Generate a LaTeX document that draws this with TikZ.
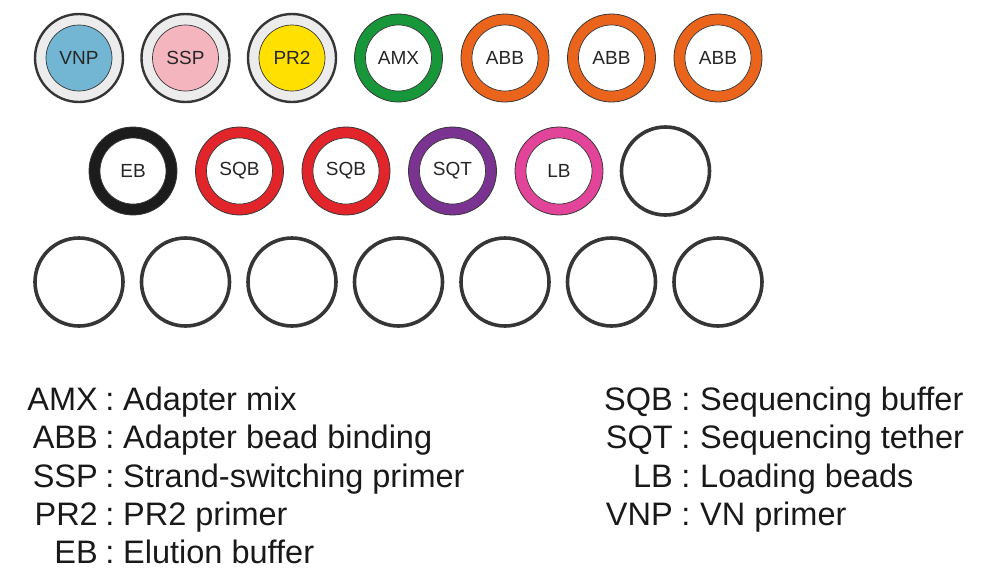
\documentclass[tikz,border=0pt]{standalone}
\usepackage{fontspec}
\setmainfont{Liberation Sans}

\definecolor{rimgrey}{HTML}{363636}
\definecolor{sleeve}{HTML}{ECECEC}
\definecolor{vnpblue}{HTML}{72B6D3}
\definecolor{ssppink}{HTML}{F4B5BF}
\definecolor{pryellow}{HTML}{FFE000}
\definecolor{amxgreen}{HTML}{17973A}
\definecolor{abborange}{HTML}{EA641C}
\definecolor{ebblack}{HTML}{1C1C1C}
\definecolor{sqbred}{HTML}{E1252A}
\definecolor{sqtpurple}{HTML}{7A3391}
\definecolor{lbpink}{HTML}{E2449A}

\def\pitch{106.5}
\def\rowa{58}
\def\rowb{171}
\def\rowc{282}
\def\lead{38.3}

\tikzset{
  tube/.style={circle, draw=rimgrey, minimum size=88pt, inner sep=0pt},
  sleevetube/.style={tube, fill=sleeve, line width=2.4pt},
  captube/.style={tube, fill=#1, line width=0.8pt},
  emptytube/.style={tube, line width=3.6pt},
  cap/.style={circle, draw=rimgrey, fill=#1, minimum size=66pt, inner sep=0pt,
    line width=0.7pt, font=\fontsize{19}{19}\selectfont, text=black!85},
  legend/.style={font=\fontsize{32.5}{32.5}\selectfont, text=black!90, inner sep=0pt},
}

\begin{document}
\begin{tikzpicture}[x=1pt,y=-1pt]
    \useasboundingbox (0,0) rectangle (983,579);

    % first row
    \node[sleevetube] (vnp) at (79,\rowa) {};
    \node[cap=vnpblue] (vnpcap) at (vnp) {VNP};
    \node[sleevetube] (ssp) at ({79+\pitch},\rowa) {};
    \node[cap=ssppink] (sspcap) at (ssp) {SSP};
    \node[sleevetube] (pr) at ({79+2*\pitch},\rowa) {};
    \node[cap=pryellow] (prcap) at (pr) {PR2};
    \node[captube=amxgreen] (amx) at ({79+3*\pitch},\rowa) {};
    \node[cap=white] (amxcap) at (amx) {AMX};
    \node[captube=abborange] (abba) at ({79+4*\pitch},\rowa) {};
    \node[cap=white] (abbacap) at (abba) {ABB};
    \node[captube=abborange] (abbb) at ({79+5*\pitch},\rowa) {};
    \node[cap=white] (abbbcap) at (abbb) {ABB};
    \node[captube=abborange] (abbc) at ({79+6*\pitch},\rowa) {};
    \node[cap=white] (abbccap) at (abbc) {ABB};

    % second row
    \node[captube=ebblack] (eb) at (133,\rowb) {};
    \node[cap=white] (ebcap) at (eb) {EB};
    \node[captube=sqbred] (sqba) at ({133+\pitch},\rowb) {};
    \node[cap=white] (sqbacap) at (sqba) {SQB};
    \node[captube=sqbred] (sqbb) at ({133+2*\pitch},\rowb) {};
    \node[cap=white] (sqbbcap) at (sqbb) {SQB};
    \node[captube=sqtpurple] (sqt) at ({133+3*\pitch},\rowb) {};
    \node[cap=white] (sqtcap) at (sqt) {SQT};
    \node[captube=lbpink] (lb) at ({133+4*\pitch},\rowb) {};
    \node[cap=white] (lbcap) at (lb) {LB};
    \node[emptytube] (freeb) at ({133+5*\pitch},\rowb) {};

    % third row
    \foreach \k in {0,...,6}
      \node[emptytube] (freec\k) at ({79+\k*\pitch},\rowc) {};

    % legend, left column
    \node[legend, anchor=base east] (amxkey) at (98,410.5) {AMX};
    \node[legend, anchor=base] (amxcolon) at (110,410.5) {:};
    \node[legend, anchor=base west] (amxtext) at (123,410.5) {Adapter mix};
    \node[legend, anchor=base east] (abbkey) at (98,{410.5+\lead}) {ABB};
    \node[legend, anchor=base] (abbcolon) at (110,{410.5+\lead}) {:};
    \node[legend, anchor=base west] (abbtext) at (123,{410.5+\lead}) {Adapter bead binding};
    \node[legend, anchor=base east] (sspkey) at (98,{410.5+2*\lead}) {SSP};
    \node[legend, anchor=base] (sspcolon) at (110,{410.5+2*\lead}) {:};
    \node[legend, anchor=base west] (ssptext) at (123,{410.5+2*\lead}) {Strand-switching primer};
    \node[legend, anchor=base east] (prkey) at (98,{410.5+3*\lead}) {PR2};
    \node[legend, anchor=base] (prcolon) at (110,{410.5+3*\lead}) {:};
    \node[legend, anchor=base west] (prtext) at (123,{410.5+3*\lead}) {PR2 primer};
    \node[legend, anchor=base east] (ebkey) at (98,{410.5+4*\lead}) {EB};
    \node[legend, anchor=base] (ebcolon) at (110,{410.5+4*\lead}) {:};
    \node[legend, anchor=base west] (ebtext) at (123,{410.5+4*\lead}) {Elution buffer};

    % legend, right column
    \node[legend, anchor=base east] (sqbkey) at (673,410.5) {SQB};
    \node[legend, anchor=base] (sqbcolon) at (686,410.5) {:};
    \node[legend, anchor=base west] (sqbtext) at (700,410.5) {Sequencing buffer};
    \node[legend, anchor=base east] (sqtkey) at (673,{410.5+\lead}) {SQT};
    \node[legend, anchor=base] (sqtcolon) at (686,{410.5+\lead}) {:};
    \node[legend, anchor=base west] (sqttext) at (700,{410.5+\lead}) {Sequencing tether};
    \node[legend, anchor=base east] (lbkey) at (673,{410.5+2*\lead}) {LB};
    \node[legend, anchor=base] (lbcolon) at (686,{410.5+2*\lead}) {:};
    \node[legend, anchor=base west] (lbtext) at (700,{410.5+2*\lead}) {Loading beads};
    \node[legend, anchor=base east] (vnpkey) at (673,{410.5+3*\lead}) {VNP};
    \node[legend, anchor=base] (vnpcolon) at (686,{410.5+3*\lead}) {:};
    \node[legend, anchor=base west] (vnptext) at (700,{410.5+3*\lead}) {VN primer};
\end{tikzpicture}
\end{document}
